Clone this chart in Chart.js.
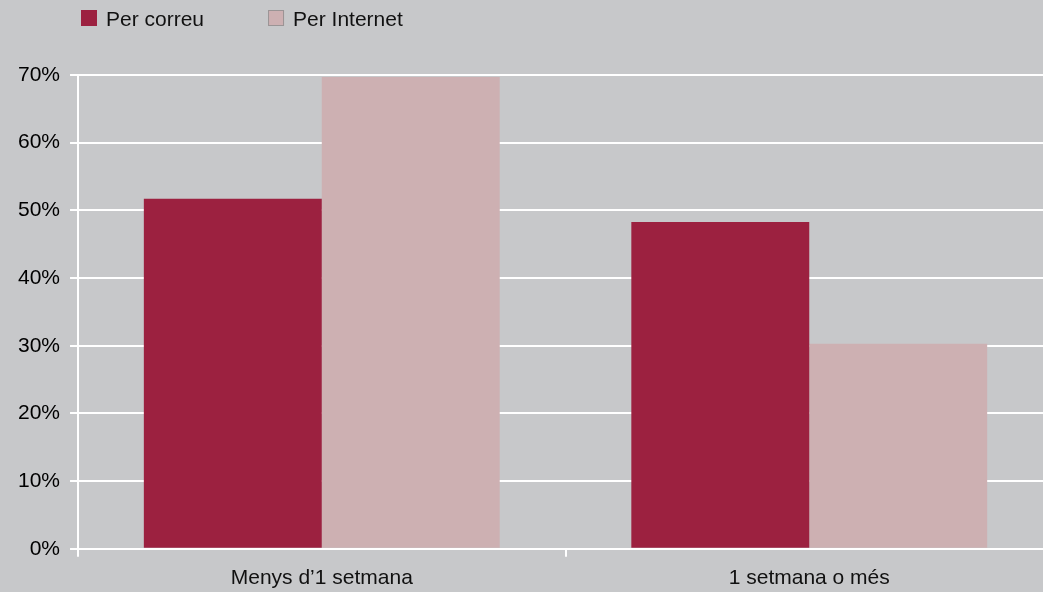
<!DOCTYPE html>
<html>
<head>
<meta charset="utf-8">
<script src="https://cdn.jsdelivr.net/npm/chart.js@4.4.1/dist/chart.umd.min.js"></script>
<style>
  html, body { margin: 0; padding: 0; background: #c7c8ca; overflow: hidden; }
  #wrap { width: 1053px; height: 592px; }
</style>
</head>
<body>
<div id="wrap"><canvas id="grafic"></canvas></div>
<script>
const categories = ["Menys d\u20191 setmana", "1 setmana o més"];
const perCorreu = [51.7, 48.3];
const perInternet = [69.7, 30.3];
const yTicks = [0, 10, 20, 30, 40, 50, 60, 70];

const FONT = "'Liberation Sans', Arial, Helvetica, sans-serif";

// fons gris de tot el llenç
const fons = {
  id: "fons",
  beforeDraw(chart) {
    const ctx = chart.ctx;
    ctx.save();
    ctx.fillStyle = "#c7c8ca";
    ctx.fillRect(0, 0, chart.width, chart.height);
    ctx.restore();
  },
};

// llegenda a dalt a l'esquerra, feta a mà
const llegenda = {
  id: "llegenda",
  afterDraw(chart) {
    const ctx = chart.ctx;
    ctx.save();
    ctx.font = "21px " + FONT;
    ctx.textBaseline = "middle";
    let x = 81;
    const y = 10;
    chart.data.datasets.forEach((ds) => {
      ctx.fillStyle = ds.backgroundColor;
      ctx.fillRect(x, y, 16, 16);
      if (ds.legendBorder) {
        ctx.strokeStyle = ds.legendBorder;
        ctx.lineWidth = 1;
        ctx.strokeRect(x + 0.5, y + 0.5, 15, 15);
      }
      ctx.fillStyle = "#111";
      ctx.fillText(ds.label, x + 25, y + 10);
      x += 25 + ctx.measureText(ds.label).width + 64;
    });
    ctx.restore();
  },
};

new Chart(document.getElementById("grafic"), {
  type: "bar",
  data: {
    labels: categories,
    datasets: [
      {
        label: "Per correu",
        data: perCorreu,
        backgroundColor: "#9c2140",
      },
      {
        label: "Per Internet",
        data: perInternet,
        backgroundColor: "#cdb0b2",
        legendBorder: "#9a9495",
      },
    ],
  },
  options: {
    responsive: true,
    maintainAspectRatio: false,
    animation: false,
    layout: {
      padding: { top: 75, left: 8, right: 0, bottom: -8 },
    },
    datasets: {
      bar: { categoryPercentage: 0.73, barPercentage: 1 },
    },
    plugins: {
      legend: { display: false },
      tooltip: { enabled: false },
    },
    scales: {
      x: {
        grid: {
          drawOnChartArea: false,
          drawTicks: true,
          tickLength: 8,
          color: "#ffffff",
          lineWidth: 2,
        },
        border: { color: "#ffffff", width: 2 },
        ticks: {
          color: "#111",
          padding: 9,
          font: { family: FONT, size: 21 },
        },
      },
      y: {
        min: 0,
        max: 70,
        afterBuildTicks(axis) {
          axis.ticks = yTicks.map((v) => ({ value: v }));
        },
        grid: {
          color: "#ffffff",
          lineWidth: 2,
          tickLength: 8,
        },
        border: { color: "#ffffff", width: 2 },
        ticks: {
          color: "#000",
          padding: 10,
          font: { family: FONT, size: 21 },
          callback: (v) => v + "%",
        },
      },
    },
  },
  plugins: [fons, llegenda],
});
</script>
</body>
</html>
